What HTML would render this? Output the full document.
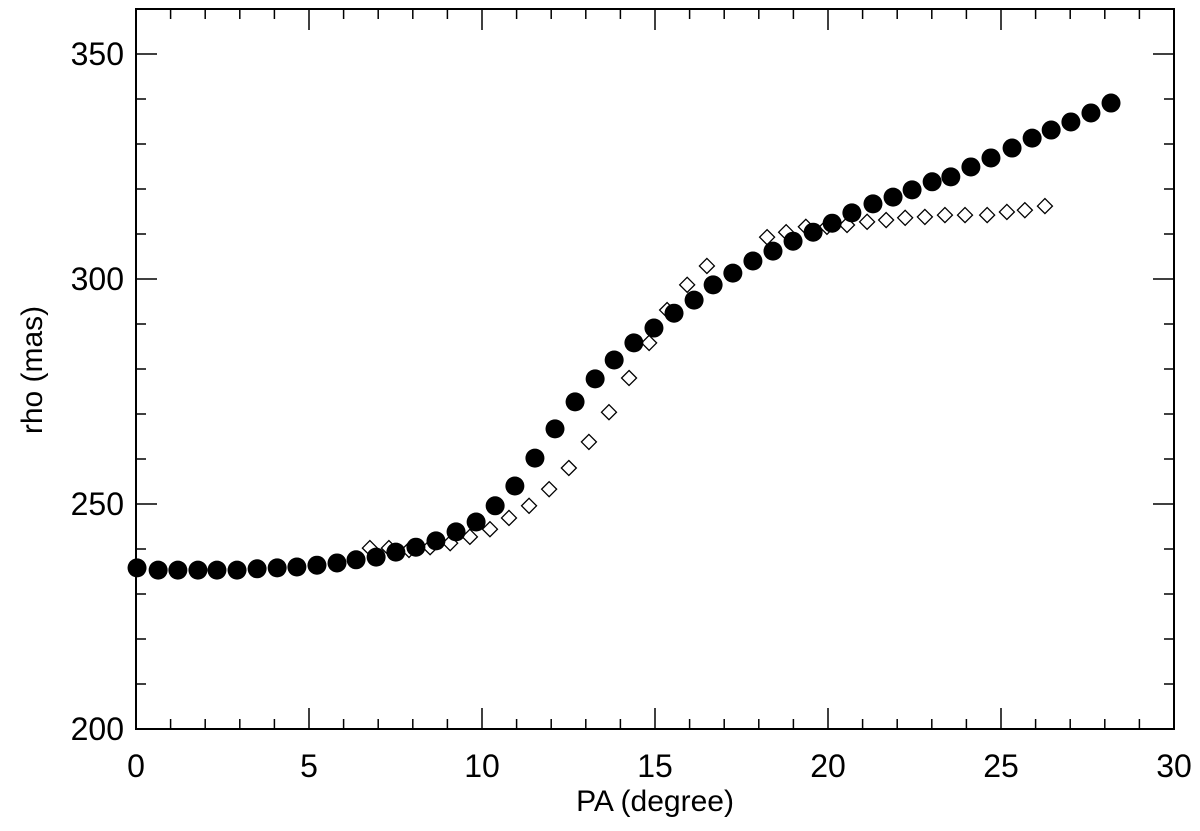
<!DOCTYPE html>
<html><head><meta charset="utf-8"><style>
html,body{margin:0;padding:0;background:#fff;}
svg{display:block;font-family:"Liberation Sans",Arial,sans-serif;}
</style></head><body>
<svg id="chart" width="1200" height="831" viewBox="0 0 1200 831" xmlns="http://www.w3.org/2000/svg">
<g id="axes"></g>
<g id="marks"></g>
<text x="655" y="811" font-size="30" text-anchor="middle">PA (degree)</text>
<text x="0" y="0" font-size="30" text-anchor="middle" transform="translate(42,370) rotate(-90)">rho (mas)</text>
</svg>
<script>
const circleX=[0.03,0.64,1.21,1.79,2.34,2.92,3.50,4.08,4.65,5.23,5.81,6.36,6.94,7.51,8.09,8.67,9.25,9.83,10.38,10.95,11.53,12.11,12.69,13.27,13.82,14.39,14.97,15.55,16.13,16.68,17.25,17.83,18.41,18.99,19.57,20.12,20.69,21.30,21.88,22.43,23.01,23.55,24.13,24.71,25.32,25.90,26.45,27.02,27.60,28.18];
const circleY=[235.8,235.3,235.3,235.3,235.3,235.3,235.6,235.8,236.0,236.4,236.9,237.6,238.2,239.3,240.4,241.8,243.8,246.0,249.6,254.0,260.2,266.7,272.7,277.8,282.0,285.8,289.1,292.4,295.3,298.7,301.3,304.0,306.2,308.4,310.4,312.4,314.7,316.7,318.2,319.8,321.6,322.7,324.9,326.9,329.1,331.3,333.1,334.9,336.9,339.1];
const diamondX=[6.76,7.31,7.89,8.50,9.08,9.65,10.23,10.78,11.36,11.94,12.51,13.09,13.67,14.25,14.83,15.35,15.93,16.50,18.24,18.79,19.36,19.97,20.55,21.13,21.68,22.23,22.80,23.38,23.96,24.60,25.17,25.69,26.27];
const diamondY=[240.2,240.2,239.8,240.4,241.3,242.7,244.4,246.9,249.6,253.3,258.0,263.8,270.4,278.0,285.8,293.1,298.7,302.9,309.3,310.4,311.6,311.6,312.0,312.7,313.1,313.6,313.8,314.2,314.2,314.2,314.9,315.3,316.2];
const xTicks=[0,5,10,15,20,25,30];
const yTicks=[200,250,300,350];
const xTickLabels=["0","5","10","15","20","25","30"];
const yTickLabels=["200","250","300","350"];

const L=136,R=1174,T=9,B=729,X0=0,X1=30,Y0=200,Y1=360;
const sx=v=>L+(v-X0)/(X1-X0)*(R-L);
const sy=v=>B-(v-Y0)/(Y1-Y0)*(B-T);
const NS="http://www.w3.org/2000/svg";
function mk(tag,attrs,parent){const e=document.createElementNS(NS,tag);for(const k in attrs)e.setAttribute(k,attrs[k]);parent.appendChild(e);return e;}
const axes=document.getElementById('axes'),marks=document.getElementById('marks');
const frame=mk('rect',{x:L,y:T,width:R-L,height:B-T,fill:'none',stroke:'#000','stroke-width':2},axes);


for(let v=X0;v<=X1;v+=1){const major=v%5===0;const len=major?21:10;const x=sx(v);
 const t1=mk('line',{x1:x,y1:B,x2:x,y2:B-len,stroke:'#000','stroke-width':1.5},axes);
 
 
 const t2=mk('line',{x1:x,y1:T,x2:x,y2:T+len,stroke:'#000','stroke-width':1.5},axes);
 
 }
for(let v=Y0;v<=Y1;v+=10){const major=v%50===0;const len=major?21:10;const y=sy(v);
 const t1=mk('line',{x1:L,y1:y,x2:L+len,y2:y,stroke:'#000','stroke-width':1.5},axes);
 
 
 const t2=mk('line',{x1:R,y1:y,x2:R-len,y2:y,stroke:'#000','stroke-width':1.5},axes);
 
 }
xTicks.forEach((v,i)=>{const t=mk('text',{x:sx(v),y:777,'font-size':32,'text-anchor':'middle'},axes);t.textContent=xTickLabels[i];
 
 });
yTicks.forEach((v,i)=>{const t=mk('text',{x:124,y:sy(v)+11,'font-size':32,'text-anchor':'end'},axes);t.textContent=yTickLabels[i];
 
 });
diamondX.forEach((v,i)=>{const x=sx(v),y=sy(diamondY[i]),d=7.5;
 const p=mk('polygon',{points:`${x},${y-d} ${x+d},${y} ${x},${y+d} ${x-d},${y}`,fill:'#fff',stroke:'#000','stroke-width':1.3},marks);
 
 });
circleX.forEach((v,i)=>{const c=mk('circle',{cx:sx(v),cy:sy(circleY[i]),r:9.5,fill:'#000'},marks);
 
 });
</script>
</body></html>
